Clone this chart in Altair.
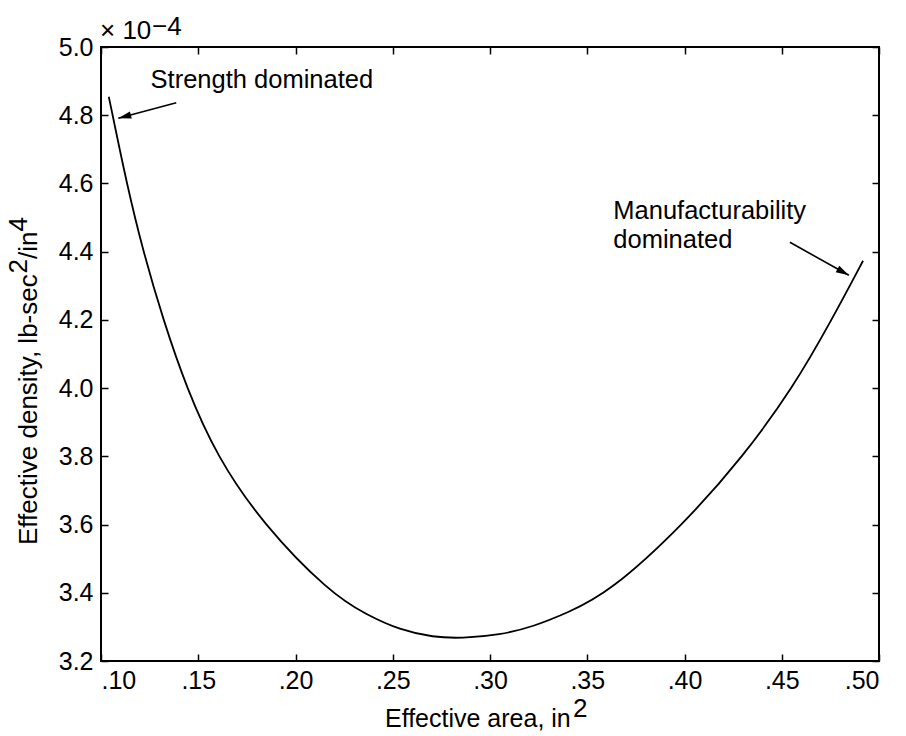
import altair as alt
import pandas as pd

# Curve (density in units of 1e-4 lb-sec^2/in^4)
area = [0.1040, 0.1060, 0.1132, 0.1217, 0.1320, 0.1440, 0.1595, 0.1834, 0.2177,
        0.2366, 0.2537, 0.2708, 0.2854, 0.3051, 0.3223, 0.3394, 0.3612, 0.3995,
        0.4302, 0.4557, 0.4757, 0.4918]
density = [4.854, 4.800, 4.600, 4.400, 4.200, 4.000, 3.800, 3.600, 3.400,
           3.335, 3.291, 3.2695, 3.2665, 3.276, 3.301, 3.340, 3.400, 3.600,
           3.800, 4.000, 4.200, 4.3735]

x_ticks = [0.10, 0.15, 0.20, 0.25, 0.30, 0.35, 0.40, 0.45, 0.50]
y_ticks = [3.2, 3.4, 3.6, 3.8, 4.0, 4.2, 4.4, 4.6, 4.8, 5.0]

# annotations (data coordinates)
ann_text = ["Strength dominated", "Manufacturability", "dominated"]
ann_x = [0.1255, 0.3634, 0.3634]
ann_y = [4.879, 4.4972, 4.4102]

arrow_x = [0.1387, 0.4542]
arrow_y = [4.8367, 4.4275]
arrow_x2 = [0.1089, 0.4845]
arrow_y2 = [4.791, 4.3307]
arrow_angle = [255, 119.2]

FONT = "Liberation Sans"

curve = pd.DataFrame({"area": area, "density": density})
ann = pd.DataFrame({"t": ann_text, "x": ann_x, "y": ann_y})
arrows = pd.DataFrame({"x": arrow_x, "y": arrow_y, "x2": arrow_x2, "y2": arrow_y2,
                       "ang": arrow_angle})

xs = alt.Scale(domain=[0.1, 0.5], nice=False, zero=False)
ys = alt.Scale(domain=[3.2, 5.0], nice=False, zero=False)

common_axis = dict(grid=False, domain=False, tickColor="black", tickWidth=1.5,
                   tickSize=7, offset=-7, title=None, labelFont=FONT,
                   labelFontSize=25, labelColor="black")

x_bottom = alt.Axis(orient="bottom", values=x_ticks, labelPadding=7,
                    labelExpr="replace(format(datum.value, '.2f'), '0.', '.')",
                    **common_axis)
y_left = alt.Axis(orient="left", values=y_ticks, labelPadding=8, format=".1f",
                  **common_axis)
x_top = alt.Axis(orient="top", values=x_ticks, labels=False, **common_axis)
y_right = alt.Axis(orient="right", values=y_ticks, labels=False, **common_axis)

line = alt.Chart(curve).mark_line(color="black", strokeWidth=1.8,
                                  interpolate="basis").encode(
    x=alt.X("area:Q", scale=xs, axis=x_bottom),
    y=alt.Y("density:Q", scale=ys, axis=y_left),
)

mirror = alt.Chart(curve).mark_line(opacity=0).encode(
    x=alt.X("area:Q", scale=xs, axis=x_top),
    y=alt.Y("density:Q", scale=ys, axis=y_right),
)

shafts = alt.Chart(arrows).mark_rule(color="black", strokeWidth=1.6).encode(
    x=alt.X("x:Q", scale=xs, axis=None),
    y=alt.Y("y:Q", scale=ys, axis=None),
    x2="x2:Q",
    y2="y2:Q",
)

heads = alt.Chart(arrows).mark_point(
    shape="M0,0L-0.28,1L0.28,1Z", filled=True, color="black", opacity=1,
    size=676, strokeWidth=0,
).encode(
    x=alt.X("x2:Q", scale=xs, axis=None),
    y=alt.Y("y2:Q", scale=ys, axis=None),
    angle=alt.Angle("ang:Q", scale=None),
)

labels = alt.Chart(ann).mark_text(
    align="left", baseline="alphabetic", font=FONT, fontSize=25.5, color="black"
).encode(
    x=alt.X("x:Q", scale=xs, axis=None),
    y=alt.Y("y:Q", scale=ys, axis=None),
    text="t:N",
)


def txt(s, x, y, size, angle=0, align="left"):
    kw = dict(align=align, baseline="alphabetic", font=FONT, fontSize=size,
              color="black")
    if angle:
        kw["angle"] = angle
    return alt.Chart(pd.DataFrame({"t": [s]})).mark_text(**kw).encode(
        x=alt.value(x), y=alt.value(y), text="t:N")


# axis titles with raised superscripts, and the exponent multiplier
x_title = txt("Effective area, in", 284, 680, 25)
x_sup = txt("2", 472, 670, 26)
y_t1 = txt("Effective density, lb-sec", -64, 498, 26, angle=270)
y_s1 = txt("2", -74, 226.4, 26, angle=270)
y_t2 = txt("/in", -64, 211.9, 26, angle=270)
y_s2 = txt("4", -74, 184.4, 26, angle=270)
mult = txt("\u00d7 10", -1, -8, 26)
mult_exp = txt("\u22124", 51, -12, 26)

chart = alt.layer(
    line, mirror, shafts, heads, labels,
    x_title, x_sup, y_t1, y_s1, y_t2, y_s2, mult, mult_exp,
).resolve_axis(
    x="independent", y="independent"
).properties(
    width=778, height=614, autosize="none",
    padding={"left": 101, "top": 47, "right": 27, "bottom": 75},
    background="white",
).configure_view(
    stroke="black", strokeWidth=2
)

chart.save("out.html", embed_options={"renderer": "svg", "actions": False})
